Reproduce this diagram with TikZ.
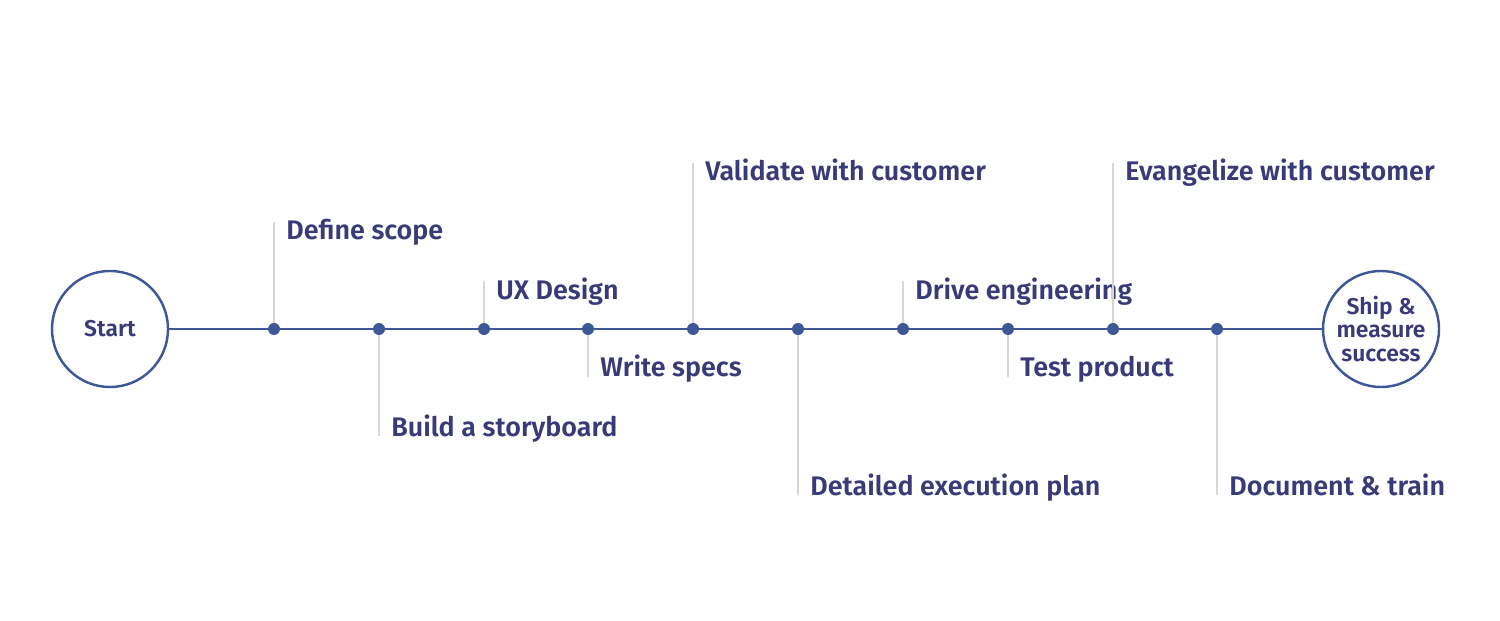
\documentclass[tikz,border=0pt]{standalone}
\usepackage{fontspec}
\setmainfont{Fira Sans}[UprightFont=* SemiBold]
\definecolor{txt}{HTML}{393A78}
\definecolor{axis}{HTML}{3E5797}
\definecolor{tick}{HTML}{D6D6D6}
\begin{document}
\begin{tikzpicture}[x=0.02cm,y=-0.02cm,
  milestone/.style={circle,draw=axis,line width=1.4pt,minimum size=116*0.02cm,inner sep=0pt,text=txt,font=\fontsize{13}{13.6}\selectfont,align=center},
  dot/.style={circle,fill=axis,minimum size=12*0.02cm,inner sep=0pt},
  lbl/.style={anchor=base west,text=txt,font=\fontsize{15.3}{17}\selectfont,inner sep=0pt},
  tickline/.style={draw=tick,line width=1.2pt},
  axisline/.style={draw=axis,line width=1.4pt}]
\useasboundingbox (0,0) rectangle (1500,621);
\node[milestone] (start) at (110,329) {Start};
\node[milestone] (end) at (1381,329) {Ship \&\\measure\\success};
\draw[axisline] (start) -- (end);
\foreach \x/\n in {274/d1,379/d2,484/d3,588/d4,693/d5,798/d6,903/d7,1008/d8,1113/d9,1217/d10}{
  \node[dot] (\n) at (\x,329) {};
}
% up ticks
\foreach \n/\y/\t in {d1/222/Define scope,d3/281/UX Design,d5/163/Validate with customer,d7/281/Drive engineering,d9/163/Evangelize with customer}{
  \coordinate (t\n) at (\n |- 0,\y);
  \draw[tickline] (\n.north) -- (t\n);
  \node[lbl] (l\n) at ([xshift=12*0.02cm,yshift=-18*0.02cm]t\n) {\t};
}
% down ticks
\foreach \n/\y/\t in {d2/436/Build a storyboard,d4/377/Write specs,d6/495/Detailed execution plan,d8/377/Test product,d10/495/Document \& train}{
  \coordinate (t\n) at (\n |- 0,\y);
  \draw[tickline] (\n.south) -- (t\n);
  \node[lbl] (l\n) at ([xshift=12*0.02cm,yshift=0*0.02cm]t\n) {\t};
}
\end{tikzpicture}
\end{document}
